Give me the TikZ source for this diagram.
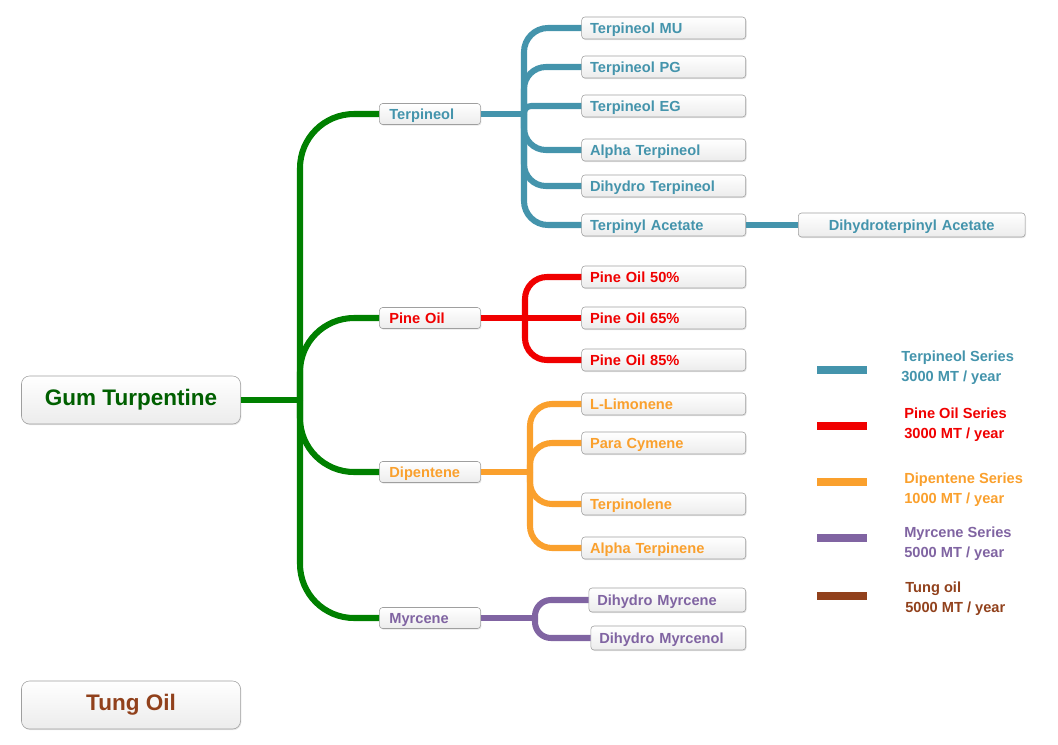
\documentclass[tikz,border=0pt]{standalone}
\usepackage{fontspec}
\setmainfont{Liberation Sans}
\usetikzlibrary{positioning, shadows}
\definecolor{gumgreen}{RGB}{0,128,0}
\definecolor{gumtext}{RGB}{0,95,0}
\definecolor{terpcol}{RGB}{68,148,172}
\definecolor{pinecol}{RGB}{240,0,0}
\definecolor{dipcol}{RGB}{250,160,45}
\definecolor{myrcol}{RGB}{128,100,162}
\definecolor{tungcol}{RGB}{145,65,28}
\begin{document}
\begin{tikzpicture}[x=0.025cm, y=-0.025cm,
  box/.style={draw=gray!75, top color=white, bottom color=gray!15,
    drop shadow={opacity=0.2, shadow xshift=0.6pt, shadow yshift=-0.8pt}},
  big/.style={box, rounded corners=0.2cm, minimum width=5.475cm,
    minimum height=1.2cm, font=\fontsize{16}{19}\selectfont\bfseries},
  mid/.style={box, rounded corners=0.08cm, text width=2.03cm, inner xsep=0.25cm,
    inner ysep=0pt, minimum height=0.525cm, align=left,
    text height=0.72em, text depth=0pt,
    font=\fontsize{10.4}{12}\selectfont\bfseries},
  leaf/.style={box, rounded corners=0.08cm, text width=3.68cm, inner xsep=0.21cm,
    inner ysep=0pt, minimum height=0.55cm, align=left, anchor=east,
    text height=0.72em, text depth=0pt,
    font=\fontsize{10.4}{12}\selectfont\bfseries},
  link/.style={line width=4.3pt},
  legtext/.style={anchor=west, inner sep=0pt, align=left,
    font=\fontsize{10.4}{14}\selectfont\bfseries}]

  \useasboundingbox (0,0) rectangle (1058,744);

  \node[big, text=gumtext] (gum) at (131,400) {Gum Turpentine};
  \node[big, text=tungcol] (tung) at (131,705) {Tung Oil};

  \node[mid, text=terpcol] (terp) at (430,114) {Terpineol};
  \node[mid, text=pinecol] (pine) at (430,318) {Pine Oil};
  \node[mid, text=dipcol] (dip) at (430,472) {Dipentene};
  \node[mid, text=myrcol] (myr) at (430,618) {Myrcene};

  \node[leaf, text=terpcol] (t1) at (746,28) {Terpineol MU};
  \node[leaf, text=terpcol] (t2) at (746,67) {Terpineol PG};
  \node[leaf, text=terpcol] (t3) at (746,106) {Terpineol EG};
  \node[leaf, text=terpcol] (t4) at (746,150) {Alpha Terpineol};
  \node[leaf, text=terpcol] (t5) at (746,186) {Dihydro Terpineol};
  \node[leaf, text=terpcol] (t6) at (746,225) {Terpinyl Acetate};
  \node[leaf, text=terpcol, anchor=west, text width=5.25cm, align=center,
    minimum height=0.6cm, right=1.3cm of t6] (t7) {Dihydroterpinyl Acetate};

  \node[leaf, text=pinecol] (p1) at (746,277) {Pine Oil 50\%};
  \node[leaf, text=pinecol] (p2) at (746,318) {Pine Oil 65\%};
  \node[leaf, text=pinecol] (p3) at (746,360) {Pine Oil 85\%};

  \node[leaf, text=dipcol] (d1) at (746,404) {L-Limonene};
  \node[leaf, text=dipcol] (d2) at (746,443) {Para Cymene};
  \node[leaf, text=dipcol] (d3) at (746,504) {Terpinolene};
  \node[leaf, text=dipcol] (d4) at (746,548) {Alpha Terpinene};

  \node[leaf, text=myrcol, text width=3.5cm, minimum height=0.6cm] (m1) at (746,600) {Dihydro Myrcene};
  \node[leaf, text=myrcol, text width=3.45cm, minimum height=0.6cm] (m2) at (746,638) {Dihydro Myrcenol};

  \coordinate (gj) at (300,400);
  \coordinate (tj) at (524,114);
  \coordinate (pj) at (525,318);
  \coordinate (dj) at (530,472);
  \coordinate (mj) at (535,618);

  \draw[link, gumgreen] (gum.east) -- (gj);
  \foreach \n in {terp,pine,dip,myr}
    \draw[link, gumgreen, rounded corners=1.35cm] (gj) |- (\n.west);

  \draw[link, terpcol] (terp.east) -- (tj);
  \foreach \n/\r in {t1/0.6cm,t2/0.55cm,t3/0.18cm,t4/0.55cm,t5/0.55cm,t6/0.6cm}
    \draw[link, terpcol, rounded corners=\r] (tj) |- (\n.west);
  \draw[link, terpcol] (t6.east) -- (t7.west);

  \draw[link, pinecol] (pine.east) -- (p2.west);
  \foreach \n in {p1,p3}
    \draw[link, pinecol, rounded corners=0.55cm] (pj) |- (\n.west);

  \draw[link, dipcol] (dip.east) -- (dj);
  \foreach \n in {d1,d2,d3,d4}
    \draw[link, dipcol, rounded corners=0.55cm] (dj) |- (\n.west);

  \draw[link, myrcol] (myr.east) -- (mj);
  \foreach \n in {m1,m2}
    \draw[link, myrcol, rounded corners=0.4cm] (mj) |- (\n.west);

  \foreach \y/\ty/\tx/\c/\a/\b in {
      370/368/901/terpcol/Terpineol Series/3000,
      426/424.5/904/pinecol/Pine Oil Series/3000,
      482/489.5/904/dipcol/Dipentene Series/1000,
      538/544/904/myrcol/Myrcene Series/5000,
      596/598.5/905/tungcol/Tung oil/5000} {
    \draw[line width=5pt, \c] (817,\y) -- (867,\y);
    \node[legtext, text=\c] at (\tx,\ty) {\a\\ \b\ MT / year};
  }
\end{tikzpicture}
\end{document}
